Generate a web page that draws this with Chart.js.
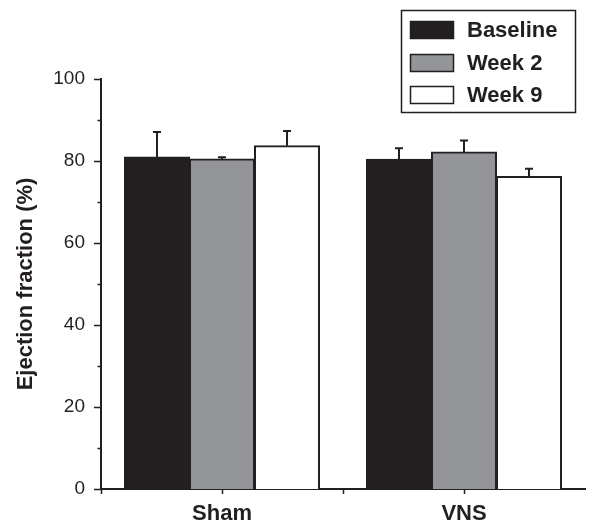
<!DOCTYPE html>
<html>
<head>
<meta charset="utf-8">
<script src="https://cdn.jsdelivr.net/npm/chart.js@4"></script>
<style>
  html, body { margin: 0; padding: 0; background: #ffffff; }
  #wrap { width: 606px; height: 524px; position: relative; }
</style>
</head>
<body>
<div id="wrap"><canvas id="chart"></canvas></div>
<script>
"use strict";

// Groups on the x axis
const categories = ["Sham", "VNS"];

// Series names (legend)
const seriesNames = ["Baseline", "Week 2", "Week 9"];

// Mean ejection fraction (%) per group
const baselineValues = [81.0, 80.4];
const week2Values = [80.5, 82.2];
const week9Values = [83.7, 76.2];

// Upper error bar size (%)
const baselineErrors = [6.1, 2.7];
const week2Errors = [0.4, 2.8];
const week9Errors = [3.6, 1.9];

// Y axis
const yMin = 0;
const yMax = 100;
const yStep = 10;
const yLabelEvery = 20;
const yTitle = "Ejection fraction (%)";

const INK = "#231f20";
const FONT = "'Liberation Sans', Arial, sans-serif";
const fillColors = ["#231f20", "#939598", "#ffffff"];

/**
 * Upward-only error bars with a small cap
 */
const errorBarPlugin = {
  id: "errorBars",
  afterDatasetsDraw(chart) {
    const ctx = chart.ctx;
    const yScale = chart.scales.y;
    ctx.save();
    ctx.strokeStyle = INK;
    ctx.lineWidth = 2;
    chart.data.datasets.forEach((ds, di) => {
      const meta = chart.getDatasetMeta(di);
      meta.data.forEach((bar, i) => {
        const err = ds.errors[i];
        const top = yScale.getPixelForValue(ds.data[i] + err);
        ctx.beginPath();
        ctx.moveTo(bar.x, bar.y);
        ctx.lineTo(bar.x, top);
        ctx.moveTo(bar.x - 4, top);
        ctx.lineTo(bar.x + 4, top);
        ctx.stroke();
      });
    });
    ctx.restore();
  },
};

/**
 * Outward tick marks: major/minor on y, centers and boundaries on x
 */
const tickMarksPlugin = {
  id: "tickMarks",
  afterDraw(chart) {
    const ctx = chart.ctx;
    const { x: xScale, y: yScale } = chart.scales;
    const left = chart.chartArea.left;
    const bottom = chart.chartArea.bottom;
    ctx.save();
    ctx.strokeStyle = INK;
    ctx.lineWidth = 1.5;
    ctx.beginPath();
    for (let v = yMin; v <= yMax; v += yStep) {
      const py = Math.round(yScale.getPixelForValue(v)) + 0.5;
      const len = v % yLabelEvery === 0 ? 7 : 3.5;
      ctx.moveTo(left - len, py);
      ctx.lineTo(left, py);
    }
    const half = (xScale.getPixelForValue(1) - xScale.getPixelForValue(0)) / 2;
    const xs = [left];
    categories.forEach((_, i) => {
      const cx = xScale.getPixelForValue(i);
      xs.push(cx);
      if (i < categories.length - 1) xs.push(cx + half);
    });
    xs.forEach((px) => {
      const rx = Math.round(px) + 0.5;
      ctx.moveTo(rx, bottom);
      ctx.lineTo(rx, bottom + 5);
    });
    ctx.stroke();
    ctx.restore();
  },
};

/**
 * Boxed legend in the top right corner
 */
const boxLegendPlugin = {
  id: "boxLegend",
  afterDraw(chart) {
    const ctx = chart.ctx;
    ctx.save();
    ctx.strokeStyle = INK;
    ctx.lineWidth = 1.5;
    ctx.strokeRect(401.5, 10.5, 174, 102);
    ctx.font = "bold 22px " + FONT;
    ctx.textBaseline = "middle";
    const rows = [30, 63, 95];
    chart.data.datasets.forEach((ds, i) => {
      const cy = rows[i];
      ctx.fillStyle = ds.backgroundColor;
      ctx.fillRect(410, cy - 8, 43, 16);
      ctx.lineWidth = 1.5;
      ctx.strokeRect(410.5, cy - 8.5, 43, 17);
      ctx.fillStyle = INK;
      ctx.fillText(ds.label, 467, cy + 1);
    });
    ctx.restore();
  },
};

const seriesValues = [baselineValues, week2Values, week9Values];
const seriesErrors = [baselineErrors, week2Errors, week9Errors];

const datasets = seriesNames.map((name, i) => ({
  label: name,
  data: seriesValues[i],
  errors: seriesErrors[i],
  backgroundColor: fillColors[i],
  borderColor: INK,
  borderWidth: 2,
  borderSkipped: "start",
  inflateAmount: 0.5,
  categoryPercentage: 0.806,
  barPercentage: 1.0,
}));

new Chart(document.getElementById("chart"), {
  type: "bar",
  data: { labels: categories, datasets },
  options: {
    responsive: true,
    maintainAspectRatio: false,
    animation: false,
    devicePixelRatio: 1,
    layout: { padding: { top: 79, right: 21, left: 0, bottom: 0 } },
    plugins: {
      legend: { display: false },
      tooltip: { enabled: false },
    },
    scales: {
      x: {
        grid: { display: false, drawTicks: false },
        border: { display: true, color: INK, width: 2 },
        ticks: {
          color: INK,
          padding: 12,
          font: { family: FONT, size: 22, weight: "bold" },
        },
        afterFit(scale) {
          scale.height = 35;
        },
      },
      y: {
        min: yMin,
        max: yMax,
        grid: { display: false, drawTicks: false },
        border: { display: true, color: INK, width: 2 },
        ticks: {
          stepSize: yStep,
          color: INK,
          padding: 16,
          font: { family: FONT, size: 19 },
          callback: (v) => (v % yLabelEvery === 0 ? String(v) : ""),
        },
        title: {
          display: true,
          text: yTitle,
          color: INK,
          padding: { top: 13, bottom: 0 },
          font: { family: FONT, size: 22, weight: "bold" },
        },
        afterFit(scale) {
          scale.width = 101;
        },
      },
    },
  },
  plugins: [errorBarPlugin, tickMarksPlugin, boxLegendPlugin],
});
</script>
</body>
</html>
